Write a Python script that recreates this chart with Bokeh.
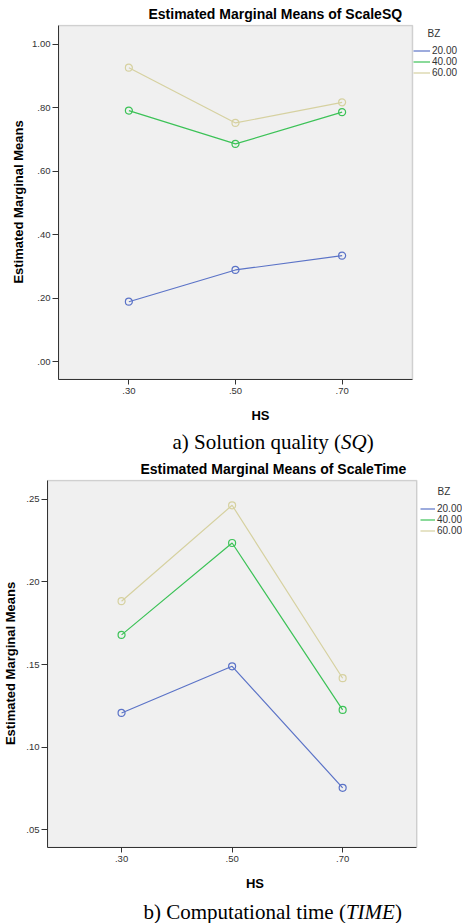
from bokeh.plotting import figure
from bokeh.models import (Label, Legend, LegendItem, FixedTicker, Range1d, ColumnDataSource,
                          BoxAnnotation, Title)
from bokeh.core.properties import value
from bokeh.layouts import column
from bokeh.embed import file_html
from bokeh.resources import INLINE

# ---------------- data ----------------
HS = [0.30, 0.50, 0.70]
HS_LABELS = [".30", ".50", ".70"]
BZ = ["20.00", "40.00", "60.00"]

SQ_20 = [0.189, 0.289, 0.334]
SQ_40 = [0.791, 0.686, 0.786]
SQ_60 = [0.926, 0.752, 0.817]
SQ_TICKS = [0.0, 0.2, 0.4, 0.6, 0.8, 1.0]
SQ_TICK_LABELS = [".00", ".20", ".40", ".60", ".80", "1.00"]

TIME_20 = [0.1208, 0.1490, 0.0755]
TIME_40 = [0.1680, 0.2236, 0.1226]
TIME_60 = [0.1884, 0.2464, 0.1418]
TIME_TICKS = [0.05, 0.10, 0.15, 0.20, 0.25]
TIME_TICK_LABELS = [".05", ".10", ".15", ".20", ".25"]

COLORS = ["#5b73c7", "#3cc257", "#d6d1a0"]

SANS = "Liberation Sans"
SERIF = "Liberation Serif"
PAGE_W = 462
BASELINE_FIX = 0.26   # Bokeh places 'alphabetic' text a little low; compensate


def add_label(p, x, y, text, size_px, style="normal", font=SANS, align="left",
              color="#000000"):
    p.add_layout(Label(x=x, y=y + BASELINE_FIX * size_px, x_units="screen", y_units="screen",
                       text=text, text_font=font, text_font_size=f"{size_px}px",
                       text_font_style=style, text_align=align,
                       text_baseline="alphabetic", text_color=color))


def make_chart(series, yticks, ylabels, xdom, ydom, area, fig_top, fig_h,
               title, title_left, legend_pos, glyph_w, bz_pos, ylab_standoff):
    X0, X1 = xdom
    Y0, Y1 = ydom
    left, right, top, bottom = area
    x_end = X1 + (PAGE_W - right) * (X1 - X0) / (right - left)
    y_end = Y1 + 1.0 * (Y1 - Y0) / (bottom - top)   # 1px headroom so the top border shows
    p = figure(width=PAGE_W, height=fig_h, x_range=Range1d(X0, x_end),
               y_range=Range1d(Y0, y_end),
               output_backend="svg", toolbar_location=None, min_border=0,
               min_border_left=left, min_border_right=0, min_border_top=top - fig_top - 1,
               min_border_bottom=fig_top + fig_h - bottom)
    p.title = Title(text=title, align="left", offset=title_left - left,
                    vertical_align="bottom", standoff=6, text_font=SANS,
                    text_font_size="14px", text_font_style="bold", text_color="#000000")
    p.frame_align = False
    p.background_fill_color = "white"
    p.border_fill_color = "white"
    p.outline_line_color = None
    p.grid.visible = False

    # SPSS-style grey plotting area
    p.add_layout(BoxAnnotation(right=X1, top=Y1, fill_color="#f0f0f0", fill_alpha=1.0,
                               line_color="#777777", line_width=1.5, level="underlay"))

    p.xaxis.ticker = FixedTicker(ticks=HS)
    p.xaxis.major_label_overrides = dict(zip(HS, HS_LABELS))
    p.xaxis.bounds = (X0, X1)
    p.yaxis.ticker = FixedTicker(ticks=yticks)
    p.yaxis.major_label_overrides = dict(zip(yticks, ylabels))
    p.yaxis.bounds = (Y0, Y1)
    for ax in p.axis:
        ax.axis_line_color = "#333333"
        ax.major_tick_line_color = "#333333"
        ax.minor_tick_line_color = None
        ax.major_tick_in = 0
        ax.major_label_text_font = SANS
        ax.major_label_text_font_size = "9.5px"
        ax.major_label_text_color = "#333333"
        ax.axis_label_text_font = SANS
        ax.axis_label_text_font_size = "13px"
        ax.axis_label_text_font_style = "bold"
        ax.axis_label_text_color = "#000000"
    p.xaxis.major_tick_out = 5
    p.xaxis.major_label_standoff = 3
    p.xaxis.axis_label = "HS"
    p.xaxis.axis_label_standoff = 11
    p.yaxis.major_tick_out = 6
    p.yaxis.major_label_standoff = 2
    p.yaxis.axis_label = "Estimated Marginal Means"
    p.yaxis.axis_label_standoff = ylab_standoff

    renderers = []
    for vals, c in zip(series, COLORS):
        src = ColumnDataSource(dict(x=HS, y=vals))
        r = p.line("x", "y", source=src, line_color=c, line_width=1.2)
        p.scatter("x", "y", source=src, size=7, marker="circle", fill_color=None,
                  line_color=c, line_width=1.2)
        renderers.append(r)

    def rel(px, py):
        return px - left, bottom - py

    lx, ly = rel(*legend_pos)
    leg = Legend(items=[LegendItem(label=value(b), renderers=[r]) for b, r in zip(BZ, renderers)],
                 location=(lx, ly), padding=0, spacing=0, margin=0,
                 label_height=11, glyph_height=11, glyph_width=glyph_w,
                 label_standoff=2, label_text_font=SANS,
                 label_text_font_size="10px", label_text_color="#333333",
                 border_line_color=None, background_fill_alpha=0)
    p.add_layout(leg)

    bx, by = rel(*bz_pos)
    add_label(p, bx, by, "BZ", 10, color="#333333")
    return p


def make_caption(parts, x0, baseline_from_bottom, h):
    c = figure(width=PAGE_W, height=h, x_range=Range1d(0, 1), y_range=Range1d(0, 1),
               x_axis_type=None, y_axis_type=None, title=None,
               output_backend="svg", toolbar_location=None, min_border=0,
               min_border_left=0, min_border_right=0, min_border_top=0, min_border_bottom=0)
    c.frame_align = False
    c.outline_line_color = None
    c.grid.visible = False
    x = x0
    for text, style, em in parts:
        add_label(c, x, baseline_from_bottom, text, 21, style=style, font=SERIF)
        x += em * 21
    return c


# page layout (pixels): plot area left, right, top, bottom
p1 = make_chart([SQ_20, SQ_40, SQ_60], SQ_TICKS, SQ_TICK_LABELS,
                (0.168, 0.832), (-0.056, 1.059), (58, 412, 23, 382), 0, 425,
                "Estimated Marginal Means of ScaleSQ", 148, (413, 80.8), 17, (427, 39), 3)
c1 = make_caption([("a) Solution quality (", "normal", 8.028), ("SQ", "italic", 1.222),
                   (")", "normal", 0.333)], 172, 8.5, 30)
p2 = make_chart([TIME_20, TIME_40, TIME_60], TIME_TICKS, TIME_TICK_LABELS,
                (0.166, 0.834), (0.0394, 0.2614), (45, 416, 478, 848), 455, 438,
                "Estimated Marginal Means of ScaleTime", 138, (418, 537), 15, (435, 495), 5)
c2 = make_caption([("b) Computational time (", "normal", 9.639), ("TIME", "italic", 2.333),
                   (")", "normal", 0.333)], 143, 6.3, 30)

layout = column(p1, c1, p2, c2)
open("out.html", "w").write(file_html(layout, INLINE))
